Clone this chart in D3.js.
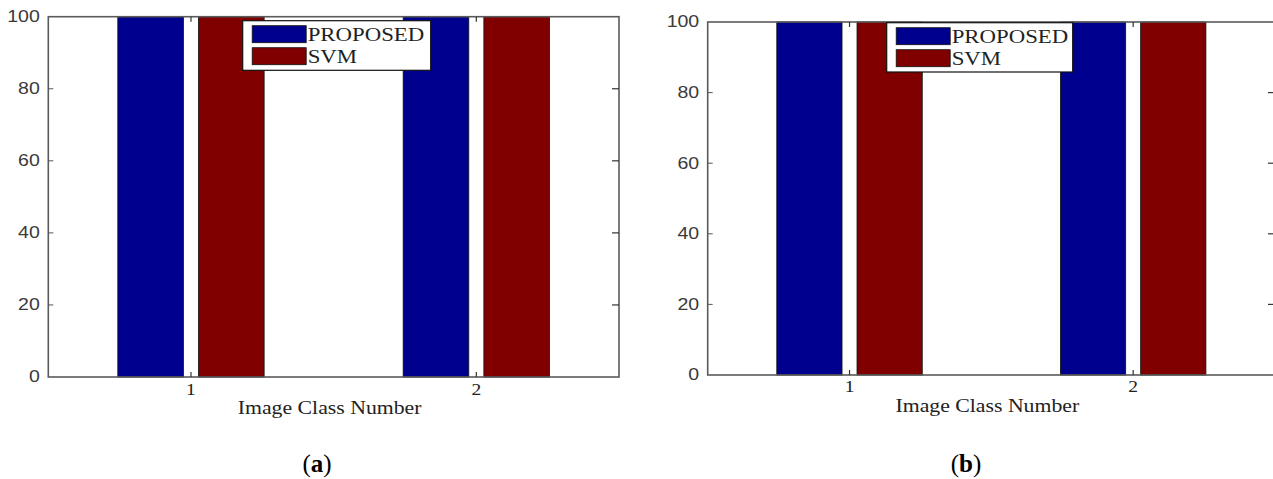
<!DOCTYPE html>
<html>
<head>
<meta charset="utf-8">
<script src="https://cdn.jsdelivr.net/npm/d3@7"></script>
<style>
  html, body { margin: 0; padding: 0; background: #fff; }
  svg { display: block; }
</style>
</head>
<body>
<div id="chart"></div>
<script>
// ---- data ----
const categories = [1, 2];
const xTickLabels = ["1", "2"];
const seriesNames = ["PROPOSED", "SVM"];
const proposedA = [100, 100];
const svmA = [100, 100];
const proposedB = [100, 100];
const svmB = [100, 100];
const yTicks = [0, 20, 40, 60, 80, 100];
const xAxisLabel = "Image Class Number";
const panelLetters = ["a", "b"];

// ---- layout ----
const W = 1273, H = 479;
const colors = ["#00008f", "#800000"];
const barWidth = 0.23, barOffset = 0.1414;

const panels = [
  { values: [proposedA, svmA], letter: panelLetters[0],
    left: 48.3, right: 619, top: 16.7, bottom: 377,
    legend: { x: 242.7, y: 20.7, w: 188, h: 49.6 },
    tickBase: 395, labelBase: 414, letterX: 317 },
  { values: [proposedB, svmB], letter: panelLetters[1],
    left: 707.7, right: 1275, top: 22, bottom: 375,
    legend: { x: 886.7, y: 22.7, w: 186, h: 49.3 },
    tickBase: 392, labelBase: 412, letterX: 966 }
];

const svg = d3.select("#chart").append("svg")
  .attr("width", W).attr("height", H);

function stretchedText(g, x, y, str, opts) {
  return g.append("text")
    .attr("transform", `translate(${x},${y}) scale(${opts.sx || 1},1)`)
    .attr("font-family", opts.family)
    .attr("font-size", opts.size)
    .attr("fill", opts.fill || "#000")
    .attr("text-anchor", opts.anchor || "start")
    .attr("dominant-baseline", opts.baseline || "auto")
    .text(str);
}

panels.forEach(p => {
  const g = svg.append("g");
  const x = d3.scaleLinear().domain([0.5, 2.5]).range([p.left, p.right]);
  const y = d3.scaleLinear().domain([0, 100]).range([p.bottom, p.top]);

  // bars
  p.values.forEach((vals, si) => {
    const off = si === 0 ? -barOffset : barOffset;
    g.selectAll(null).data(categories.map((c, i) => ({ c, v: vals[i] })))
      .enter().append("rect")
      .attr("x", d => x(d.c + off - barWidth / 2))
      .attr("width", d => x(d.c + off + barWidth / 2) - x(d.c + off - barWidth / 2))
      .attr("y", d => y(d.v))
      .attr("height", d => y(0) - y(d.v))
      .attr("fill", colors[si])
      .attr("stroke", "#111")
      .attr("stroke-width", 0.8);
  });

  // axes box
  g.append("rect")
    .attr("x", p.left).attr("y", p.top)
    .attr("width", p.right - p.left).attr("height", p.bottom - p.top)
    .attr("fill", "none").attr("stroke", "#5a5a5a").attr("stroke-width", 1.6);

  // y ticks
  yTicks.forEach(t => {
    if (t !== 0 && t !== 100) {
      g.append("line").attr("x1", p.left).attr("x2", p.left + 5)
        .attr("y1", y(t)).attr("y2", y(t)).attr("stroke", "#555").attr("stroke-width", 1);
      g.append("line").attr("x1", p.right - 7).attr("x2", p.right)
        .attr("y1", y(t)).attr("y2", y(t)).attr("stroke", "#333").attr("stroke-width", 1.2);
    }
    stretchedText(g, p.left - 8.5, y(t), String(t), {
      family: "'Liberation Sans', Arial, sans-serif", size: 16, sx: 1.22,
      fill: "#3a3a3a", anchor: "end", baseline: "central"
    });
  });

  // x ticks (inward, bottom and top)
  categories.forEach((c, i) => {
    g.append("line").attr("x1", x(c)).attr("x2", x(c))
      .attr("y1", p.bottom).attr("y2", p.bottom - 5).attr("stroke", "#333").attr("stroke-width", 1.2);
    g.append("line").attr("x1", x(c)).attr("x2", x(c))
      .attr("y1", p.top).attr("y2", p.top + 5).attr("stroke", "#333").attr("stroke-width", 1.2);
    stretchedText(g, x(c), p.tickBase, xTickLabels[i], {
      family: "'Liberation Serif', serif", size: 17, sx: 1.15, anchor: "middle", fill: "#222"
    });
  });

  // x axis label
  stretchedText(g, (p.left + p.right) / 2 - 4, p.labelBase, xAxisLabel, {
    family: "'Liberation Serif', serif", size: 18, sx: 1.21, anchor: "middle", fill: "#222"
  });

  // legend
  const L = p.legend;
  const lg = g.append("g");
  lg.append("rect").attr("x", L.x).attr("y", L.y).attr("width", L.w).attr("height", L.h)
    .attr("fill", "#fff").attr("stroke", "#111").attr("stroke-width", 1.2);
  seriesNames.forEach((name, si) => {
    const sy = L.y + 5 + si * 22;
    lg.append("rect").attr("x", L.x + 9.5).attr("y", sy)
      .attr("width", 54).attr("height", 17)
      .attr("fill", colors[si]).attr("stroke", "#111").attr("stroke-width", 0.8);
    stretchedText(lg, L.x + 65, sy + 15, name, {
      family: "'Liberation Serif', serif", size: 19, sx: 1.2, fill: "#222"
    });
  });

  // panel letter
  const lt = g.append("text")
    .attr("x", p.letterX).attr("y", 472)
    .attr("text-anchor", "middle")
    .attr("font-family", "'Liberation Serif', serif")
    .attr("font-size", 25)
    .attr("fill", "#000");
  lt.append("tspan").text("(");
  lt.append("tspan").attr("font-weight", "bold").text(p.letter);
  lt.append("tspan").text(")");
});
</script>
</body>
</html>
